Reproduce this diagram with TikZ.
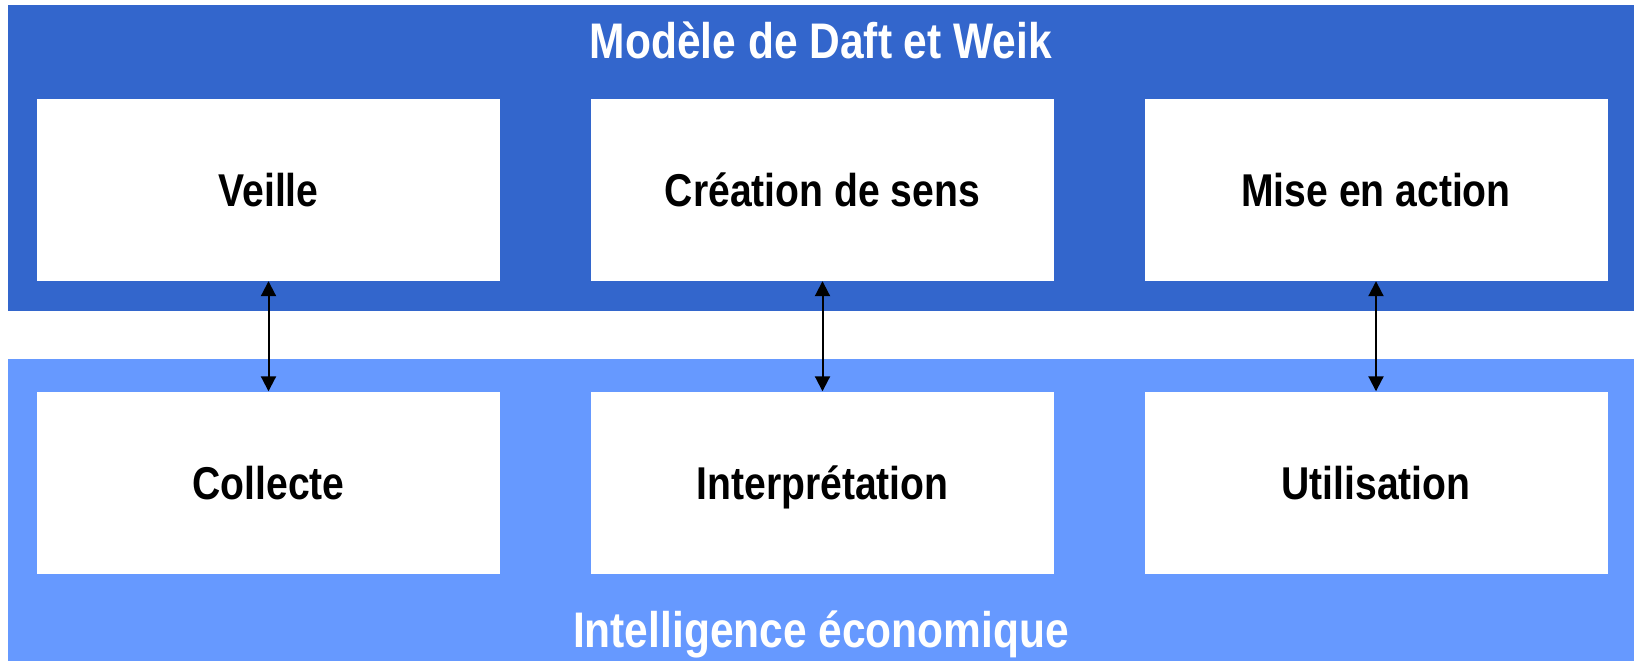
\documentclass[tikz,border=0pt]{standalone}
\usepackage{fontspec}
\setmainfont[FakeStretch=0.85]{Liberation Sans}
\usetikzlibrary{arrows.meta}
\definecolor{topblue}{RGB}{51,102,204}
\definecolor{lowblue}{RGB}{102,153,255}
\tikzset{
  stagebox/.style={fill=white, draw=none, minimum width=463pt, minimum height=182pt, inner sep=0pt,
     text height=33pt, text depth=0pt,
     font=\fontsize{46}{50}\selectfont\bfseries},
  bandtitle/.style={text=white, inner sep=0pt, anchor=base, font=\fontsize{50}{55}\selectfont\bfseries},
  link/.style={line width=2pt, {Triangle[length=15pt,width=15pt]}-{Triangle[length=15pt,width=15pt]}}
}
\begin{document}
\begin{tikzpicture}[x=1pt,y=-1pt]
\useasboundingbox (0,0) rectangle (1634,661);
\fill[topblue] (8,5) rectangle (1634,311);
\fill[lowblue] (8,359) rectangle (1634,661);
\node[bandtitle] (t1) at (821,59) {Modèle de Daft et Weik};
\node[bandtitle] (t2) at (821,647) {Intelligence économique};
\node[stagebox] (a1) at (268.5,190) {Veille};
\node[stagebox] (a2) at (822.5,190) {Création de sens};
\node[stagebox] (a3) at (1376,190) {Mise en action};
\node[stagebox] (b1) at (268.5,482.5) {Collecte};
\node[stagebox] (b2) at (822.5,482.5) {Interprétation};
\node[stagebox] (b3) at (1376,482.5) {Utilisation};
\draw[link] (a1.south) -- (b1.north);
\draw[link] (a2.south) -- (b2.north);
\draw[link] (a3.south) -- (b3.north);
\end{tikzpicture}
\end{document}
